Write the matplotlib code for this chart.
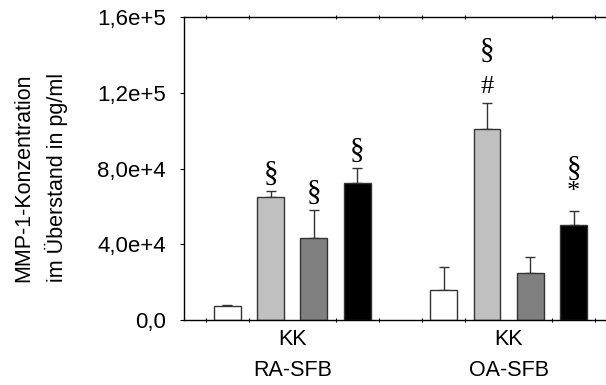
import matplotlib

matplotlib.use("Agg")
import matplotlib.pyplot as plt
import numpy as np
from matplotlib.ticker import FixedLocator

# values (pg/ml)
groups = ["KK\nRA-SFB", "KK\nOA-SFB"]
ra_means = [7400, 64900, 43200, 72600]
ra_errs = [300, 3400, 14800, 7600]
oa_means = [15900, 100800, 24700, 50200]
oa_errs = [12000, 13700, 8800, 7400]
# significance marks per bar, listed from bottom to top
ra_marks = [[], ["§"], ["§"], ["§"]]
oa_marks = [[], ["#", "§"], [], ["*", "§"]]
bar_colors = ["#ffffff", "#c0c0c0", "#808080", "#000000"]
y_ticks = [0, 40000, 80000, 120000, 160000]
y_labels = ["0,0", "4,0e+4", "8,0e+4", "1,2e+5", "1,6e+5"]

# vertical offsets (points above the error bar) for the mark stacks
MARK_OFFSETS = {"§": 12.5, "#": 11.5, "*": 14.0}
STACK_GAP = {"#": 26.0, "*": 16.5}
MARK_SIZES = {"§": 21, "#": 19, "*": 19}

plt.rcParams["font.family"] = ["Liberation Sans", "DejaVu Sans"]

fig = plt.figure(figsize=(6.06, 3.85), dpi=100)
ax = fig.add_axes([0.3036, 0.1688, 0.7144, 0.7862])

group_starts = [0, 5]
for start, means, errs, marks in zip(group_starts, [ra_means, oa_means], [ra_errs, oa_errs], [ra_marks, oa_marks]):
    xs = np.arange(len(means)) + start
    ax.bar(xs, means, width=0.62, color=bar_colors, edgecolor="#333333", linewidth=1.0, zorder=2)
    ax.errorbar(xs, means, yerr=[np.zeros(len(errs)), errs], fmt="none", ecolor="#333333",
                elinewidth=1.0, capsize=3.6, capthick=1.0, zorder=1)
    for x, m, e, stack in zip(xs, means, errs, marks):
        offset = None
        for i, mark in enumerate(stack):
            if i == 0:
                offset = MARK_OFFSETS[mark]
            else:
                offset = offset + STACK_GAP[stack[i - 1]]
            ax.annotate(mark, (x, m + e), xytext=(0, offset), textcoords="offset points",
                        ha="center", va="center", fontsize=MARK_SIZES[mark],
                        family=["Liberation Serif", "DejaVu Serif"])

ax.set_xlim(-1, 9)
ax.set_ylim(0, 160000)
ax.set_xticks([1.5, 6.5])
ax.set_xticklabels(groups, fontsize=15.5)
for lbl in ax.get_xticklabels():
    lbl.set_linespacing(1.6)
ax.xaxis.set_minor_locator(FixedLocator(np.arange(-0.5, 9, 1.0)))
ax.tick_params(axis="x", which="major", length=0, pad=6.5)
ax.tick_params(axis="x", which="minor", length=2.5, direction="inout", top=True, width=0.8)
ax.set_yticks(y_ticks)
ax.set_yticklabels(y_labels, fontsize=16)
ax.tick_params(axis="y", which="major", length=3, pad=10, width=0.8)
ylab = ax.set_ylabel("MMP-1-Konzentration\nim Überstand in pg/ml", fontsize=15.5)
ylab.set_linespacing(1.6)
ax.yaxis.set_label_coords(-0.268, 0.47)

for side in ["left", "bottom", "top"]:
    ax.spines[side].set_linewidth(1.0)
ax.spines["right"].set_visible(False)

fig.savefig("out.png", dpi=100)
